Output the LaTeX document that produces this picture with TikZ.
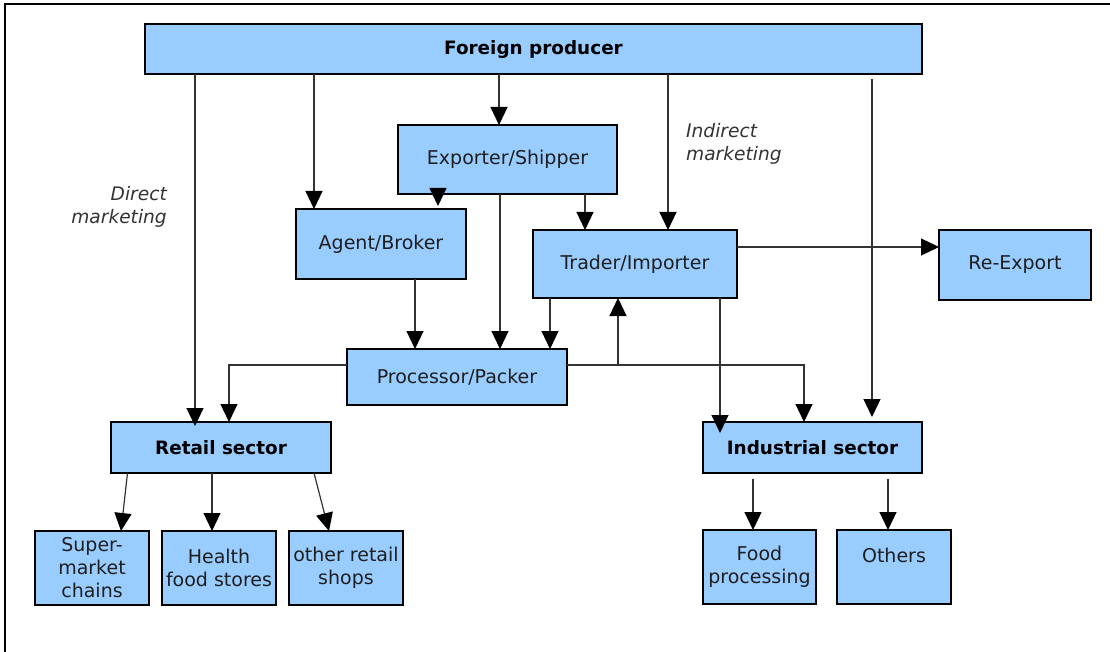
\documentclass[tikz,border=0pt]{standalone}
\usepackage{fontspec}
\setmainfont{DejaVu Sans}
\usetikzlibrary{arrows.meta}
\definecolor{boxblue}{HTML}{99CCFF}
\definecolor{linegray}{HTML}{333333}
\definecolor{textgray}{HTML}{1E1E1E}
\tikzset{
  x=1pt, y=-1pt,
  box/.style={draw=black, line width=2pt, fill=boxblue, anchor=north west,
    inner sep=0pt, outer sep=0pt, align=center, text=textgray,
    font=\fontsize{19}{23}\selectfont},
  headbox/.style={box, text=black, font=\fontsize{18.4}{22.5}\selectfont\bfseries},
  conn/.style={draw=linegray, line width=1.2pt},
  arr/.style={conn, -{Triangle[length=18pt,width=17pt,color=black]}},
  note/.style={text=linegray, font=\fontsize{18.6}{22.5}\selectfont\itshape, inner sep=0pt}
}
\begin{document}
\begin{tikzpicture}
\useasboundingbox (0,0) rectangle (1110,652);
% frame
\draw[line width=2pt] (5,652) -- (5,4) -- (1110,4);

% boxes
\node[headbox, minimum width=777, minimum height=50] (fp) at (145,24) {Foreign producer};
\node[box, minimum width=219, minimum height=69] (ex) at (398,125) {Exporter/Shipper};
\node[box, minimum width=170, minimum height=70] (ab) at (296,209) {Agent/Broker};
\node[box, minimum width=204, minimum height=68] (ti) at (533,230) {Trader/Importer};
\node[box, minimum width=152, minimum height=70] (re) at (939,230) {Re-Export};
\node[box, minimum width=220, minimum height=56] (pp) at (347,349) {Processor/Packer};
\node[headbox, minimum width=220, minimum height=51] (rs) at (111,422) {Retail sector};
\node[headbox, minimum width=219, minimum height=51] (is) at (703,422) {Industrial sector};
\node[box, minimum width=114, minimum height=74] (sm) at (35,531) {Super-\\market\\chains};
\node[box, minimum width=114, minimum height=74] (hf) at (162,531) {Health\\food stores};
\node[box, minimum width=114, minimum height=74] (or) at (289,531) {other retail\\shops};
\node[box, minimum width=113, minimum height=74] (fd) at (703,530) {Food\\processing};
\node[box, minimum width=114, minimum height=74] (ot) at (837,530) {Others\\\mbox{}};

% channel labels
\node[note, anchor=east, align=right] (dm) at (167,207) {Direct\\marketing};
\node[note, anchor=west, align=left] (im) at (686,144) {Indirect\\marketing};

% from the producer
\draw[arr, shorten >=-4pt] ([xshift=50pt]fp.south west) -- ([xshift=84pt]rs.north west);
\draw[arr] ([xshift=169pt]fp.south west) -- ([xshift=18pt]ab.north west);
\draw[arr] ([xshift=354pt]fp.south west) -- ([xshift=101pt]ex.north west);
\draw[arr] ([xshift=523pt]fp.south west) -- ([xshift=135pt]ti.north west);
\draw[arr, shorten <=5pt, shorten >=5pt] ([xshift=727pt]fp.south west) -- ([xshift=169pt]is.north west);

% from the exporter
\draw[arr, shorten >=3pt] ([xshift=40pt]ex.south west) -- ([xshift=142pt]ab.north west);
\draw[arr] ([xshift=187pt]ex.south west) -- ([xshift=52pt]ti.north west);
\draw[arr] ([xshift=102pt]ex.south west) -- ([xshift=153pt]pp.north west);

% into the processor
\draw[arr] ([xshift=119pt]ab.south west) -- ([xshift=68pt]pp.north west);
\draw[arr] ([xshift=17pt]ti.south west) -- ([xshift=203pt]pp.north west);

% from the processor
\draw[arr] ([yshift=-16pt]pp.north west) -| ([xshift=118pt]rs.north west);
\draw[arr] ([yshift=-16pt]pp.north east) -| ([xshift=101pt]is.north west);
\draw[arr] ([xshift=51pt,yshift=-16pt]pp.north east) -- ([xshift=85pt]ti.south west);

% from the trader
\draw[arr, shorten >=-11pt] ([xshift=187pt]ti.south west) -- ([xshift=17pt]is.north west);
\draw[arr] ([yshift=-17pt]ti.north east) -- ([yshift=-17pt]re.north west);

% retail outlets
\draw[arr] ([xshift=16.5pt]rs.south west) -- ([xshift=86pt]sm.north west);
\draw[arr] ([xshift=101pt]rs.south west) -- ([xshift=50pt]hf.north west);
\draw[arr] ([xshift=203pt]rs.south west) -- ([xshift=40pt]or.north west);

% industrial uses
\draw[arr, shorten <=6pt] ([xshift=50pt]is.south west) -- ([xshift=50pt]fd.north west);
\draw[arr, shorten <=6pt] ([xshift=185pt]is.south west) -- ([xshift=51pt]ot.north west);
\end{tikzpicture}
\end{document}
